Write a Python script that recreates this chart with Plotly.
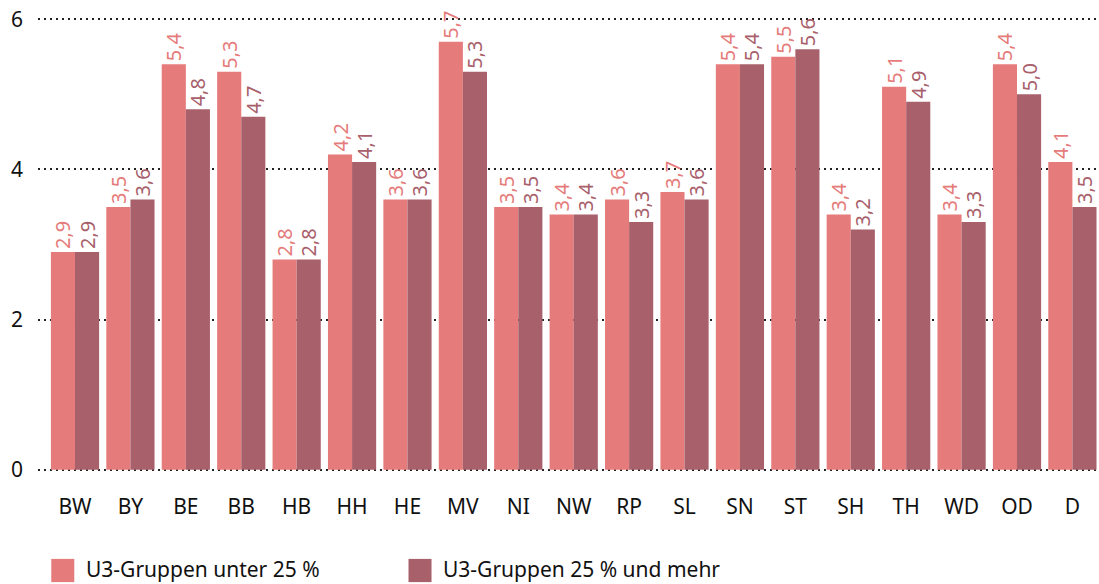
import plotly.graph_objects as go

laender = ["BW", "BY", "BE", "BB", "HB", "HH", "HE", "MV", "NI", "NW",
           "RP", "SL", "SN", "ST", "SH", "TH", "WD", "OD", "D"]
unter_25 = [2.9, 3.5, 5.4, 5.3, 2.8, 4.2, 3.6, 5.7, 3.5, 3.4,
            3.6, 3.7, 5.4, 5.5, 3.4, 5.1, 3.4, 5.4, 4.1]
ab_25 = [2.9, 3.6, 4.8, 4.7, 2.8, 4.1, 3.6, 5.3, 3.5, 3.4,
         3.3, 3.6, 5.4, 5.6, 3.2, 4.9, 3.3, 5.0, 3.5]
serien = ["U3-Gruppen unter 25 %", "U3-Gruppen 25 % und mehr"]
farben = ["#E57B7A", "#A8606B"]
y_ticks = [0, 2, 4, 6]

FONT = "Noto Sans"
SIZE = 20

fig = go.Figure()
for name, werte, farbe in zip(serien, [unter_25, ab_25], farben):
    fig.add_trace(go.Bar(
        x=laender, y=werte, name=name,
        marker=dict(color=farbe, line=dict(width=0)),
        texttemplate="%{y:.1f}", textposition="outside",
        textangle=-90, cliponaxis=False, constraintext="none",
        textfont=dict(family=FONT, size=SIZE, color=farbe),
        showlegend=False,
    ))

# Legend drawn as large swatches below the plot
leg_x = [0.0125, 0.3492]
for lx, name, farbe in zip(leg_x, serien, farben):
    fig.add_shape(type="rect", xref="paper", yref="paper",
                  x0=lx, x1=lx + 0.0217, y0=-0.191, y1=-0.242,
                  fillcolor=farbe, line=dict(width=0))
    fig.add_annotation(xref="paper", yref="paper", x=lx + 0.031, y=-0.214,
                       text=name, showarrow=False, xanchor="left", yanchor="middle",
                       font=dict(family=FONT, size=21, color="#111"))

fig.update_layout(
    width=1099, height=584,
    margin=dict(l=38, r=0, t=17, b=112),
    plot_bgcolor="white", paper_bgcolor="white",
    barmode="group", bargap=0.13, bargroupgap=0,
    separators=",.",
    font=dict(family=FONT, size=SIZE, color="#111"),
    uniformtext=dict(mode=False),
)
fig.update_xaxes(
    range=[-0.668, 18.48], showgrid=False, zeroline=False, showline=False,
    ticks="", tickfont=dict(family=FONT, size=21, color="#111"),
    ticklabelstandoff=20,
)
fig.update_yaxes(
    range=[-0.03, 6.03], tickvals=y_ticks, showgrid=True,
    gridcolor="#222", griddash="2px,4px", gridwidth=1.6,
    zeroline=False, showline=False, ticks="",
    tickfont=dict(family=FONT, size=21, color="#111"),
    ticklabelstandoff=14,
)

fig.write_html("out.html")
